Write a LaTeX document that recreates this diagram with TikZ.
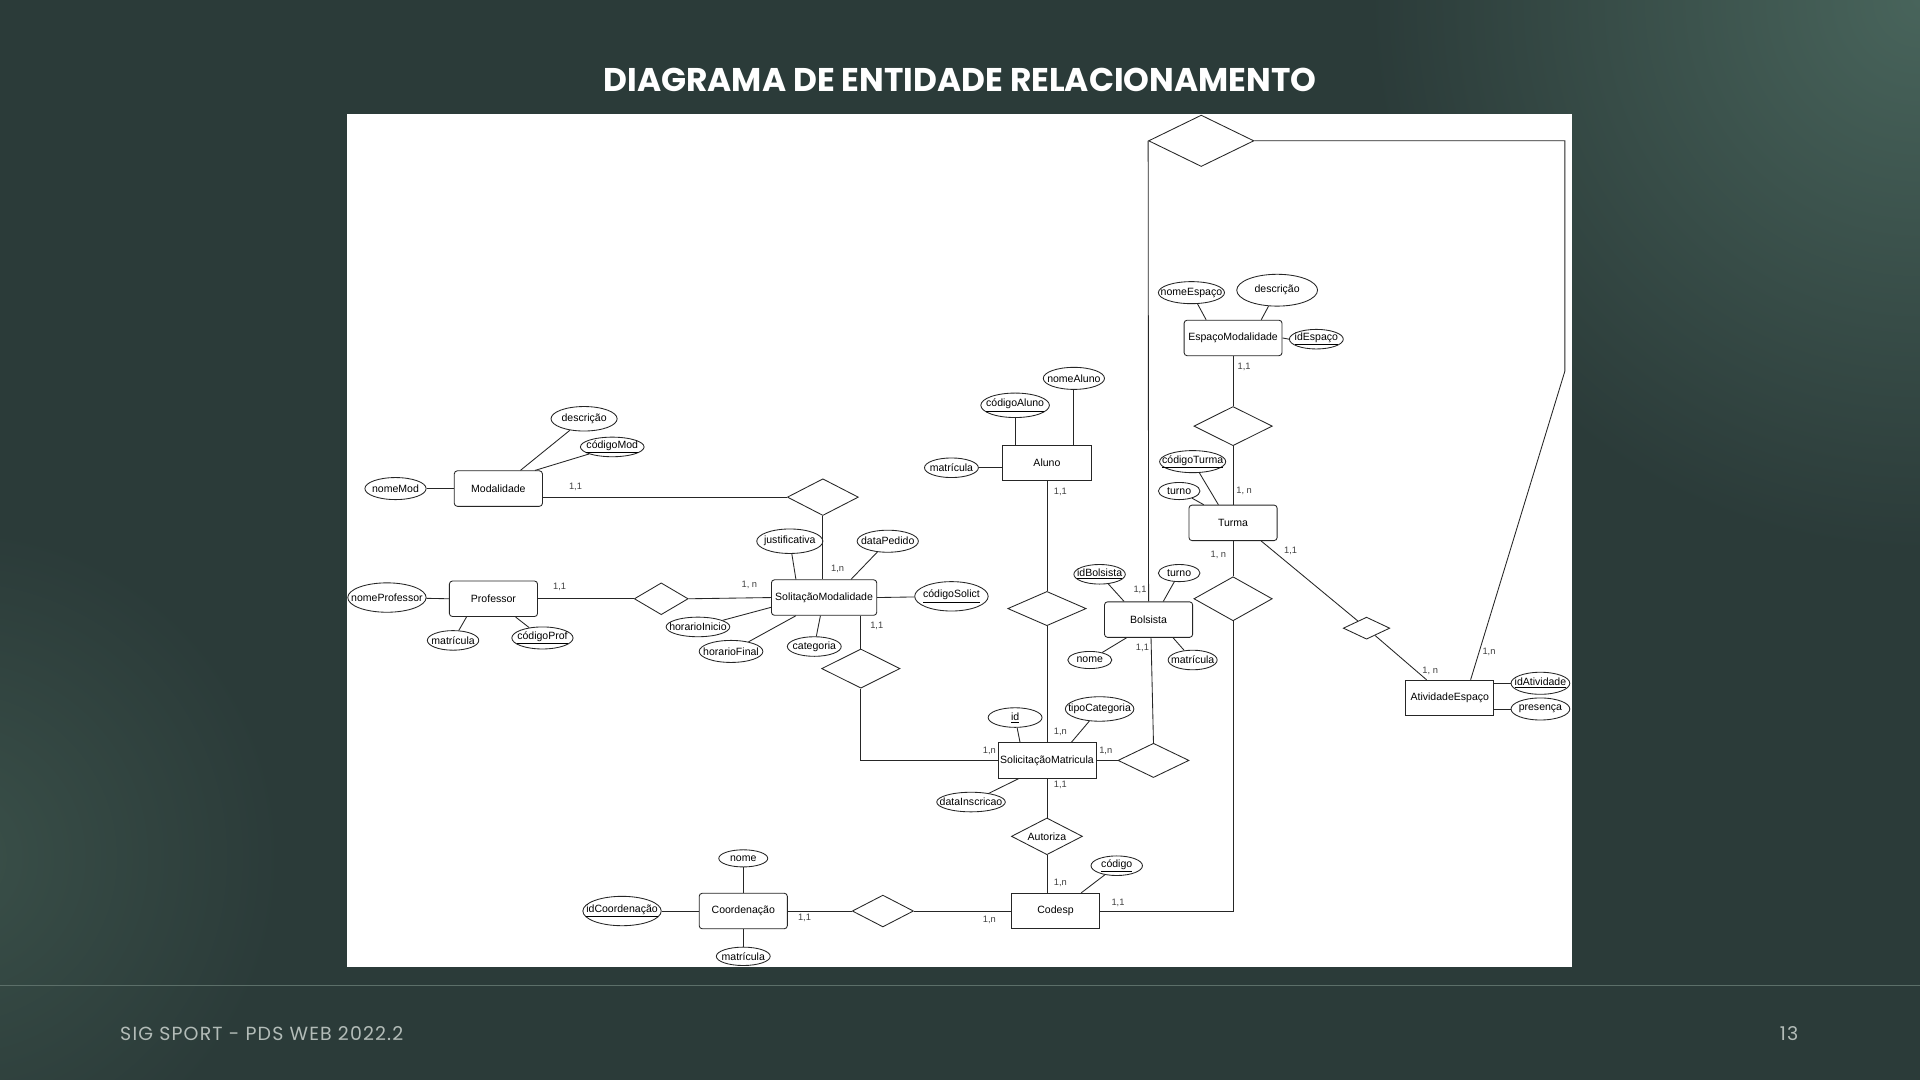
\documentclass[tikz,border=0pt]{standalone}
\usepackage{fontspec}
\usepackage{graphicx}
\setmainfont{Liberation Sans}
\newfontfamily\titlefont{Poppins}
\newfontfamily\footfont{Poppins}[LetterSpace=6]
\usetikzlibrary{shapes.geometric}
\definecolor{bgbase}{HTML}{2B3B39}
\definecolor{bglight}{HTML}{48645B}
\definecolor{bgleft}{HTML}{3A5049}
\definecolor{footgray}{HTML}{B3BCB8}
\definecolor{linegray}{HTML}{5C6F69}
\begin{document}
\begin{tikzpicture}[x=1pt,y=-1pt,
  every node/.style={font=\fontsize{8.6}{10}\selectfont},
  ent/.style={draw=black!85, line width=0.7pt, rounded corners=2.5pt, minimum width=72, minimum height=29, inner sep=1pt},
  sent/.style={draw=black!85, line width=0.7pt, minimum width=72, minimum height=29, inner sep=1pt},
  attr/.style={draw=black!85, line width=0.7pt, ellipse, inner sep=0pt, minimum height=16, label={[inner sep=0pt]center:#1}},
  rel/.style={draw=black!85, line width=0.7pt, diamond, inner sep=0pt, aspect=2},
  card/.style={font=\fontsize{7.6}{9}\selectfont, text=black!75, inner sep=0pt},
  conn/.style={draw=black!85, line width=0.7pt}
]
\useasboundingbox (0,0) rectangle (1568,882);
\clip (0,0) rectangle (1568,882);
% background
\fill[bgbase] (0,0) rectangle (1568,882);
\shade[inner color=bglight, outer color=bgbase] (1568,0) circle (450);
\shade[inner color=bgleft, outer color=bgbase] (-40,700) circle (270);
\draw[linegray, line width=1.2pt] (0,805) -- (1568,805);
\node[text=white, inner sep=0pt] (title) at (784,65) {\resizebox{582pt}{!}{\titlefont\bfseries DIAGRAMA DE ENTIDADE RELACIONAMENTO}};
\node[text=footgray, anchor=west, inner sep=0pt, font=\footfont\fontsize{15.5}{17}\selectfont] (footer) at (98,844) {SIG SPORT - PDS WEB 2022.2};
\node[text=footgray, inner sep=0pt, font=\footfont\fontsize{15.5}{17}\selectfont] (pagenum) at (1461,844) {13};
% panel
\fill[white] (283,93) rectangle (1284,790);

% ---------- Modalidade
\node[ent] (modalidade) at (407,399) {Modalidade};
\node[attr={nomeMod}, minimum width=50, minimum height=18] (nomeMod) at (323,399) {};
\node[attr={descrição}, minimum width=54, minimum height=20] (descMod) at (477,342) {};
\node[attr={\underline{códigoMod}}, minimum width=52] (codMod) at (500,365) {};
\draw[conn] (nomeMod) -- (modalidade.west);
\draw[conn] (descMod) -- ([xshift=18pt]modalidade.north);
\draw[conn] (codMod) -- ([xshift=30pt]modalidade.north);
\node[rel, minimum width=58, minimum height=30] (relMod) at (672,406) {};
\draw[conn] ([yshift=-7pt]modalidade.east) -- (relMod.west);
\node[card] (c1) at (470,398) {1,1};

% ---------- Professor
\node[ent] (professor) at (403,489) {Professor};
\node[attr={nomeProfessor}, minimum width=64, minimum height=24] (nomeProf) at (316,488) {};
\node[attr={matrícula}, minimum width=42] (matProf) at (370,523) {};
\node[attr={\underline{códigoProf}}, minimum width=50, minimum height=18] (codProf) at (443,521) {};
\draw[conn] (nomeProf) -- (professor.west);
\draw[conn] (matProf) -- ([xshift=-22pt]professor.south);
\draw[conn] (codProf) -- ([xshift=18pt]professor.south);
\node[rel, minimum width=44, minimum height=26] (relProf) at (540,489) {};
\node[card] (c2) at (457,479) {1,1};
\node[card] (c3) at (612,478) {1, n};

% ---------- SolitacaoModalidade
\node[ent, minimum width=86] (sm) at (673,488) {SolitaçãoModalidade};
\draw[conn] (professor.east) -- (relProf.west);
\draw[conn] (relProf.east) -- (sm.west);
\draw[conn] (relMod.south) -- (relMod.south |- sm.north);
\node[attr={justificativa}, minimum width=54, minimum height=20] (justif) at (645,442) {};
\node[attr={dataPedido}, minimum width=50, minimum height=18] (dataPed) at (725,442) {};
\node[attr={\underline{códigoSolict}}, minimum width=60, minimum height=24] (codSol) at (777,487) {};
\node[attr={horarioInicio}, minimum width=52] (horIni) at (570,512) {};
\node[attr={horarioFinal}, minimum width=52, minimum height=18] (horFim) at (597,532) {};
\node[attr={categoria}, minimum width=44] (categ) at (665,528) {};
\draw[conn] (justif) -- ([xshift=-23pt]sm.north);
\draw[conn] (dataPed) -- ([xshift=22pt]sm.north);
\draw[conn] (codSol) -- (sm.east);
\draw[conn] (horIni) -- ([yshift=-8pt]sm.west);
\draw[conn] (horFim) -- ([xshift=-23pt]sm.south);
\draw[conn] (categ) -- ([xshift=-3pt]sm.south);
\node[rel, minimum width=64, minimum height=32] (relSM) at (703,546) {};
\draw[conn] (relSM.north |- sm.south) -- (relSM.north);
\node[card] (c4) at (684,465) {1,n};
\node[card] (c5) at (716,511) {1,1};

% ---------- Aluno
\node[sent] (aluno) at (855,378) {Aluno};
\node[attr={\underline{códigoAluno}}, minimum width=56, minimum height=20] (codAluno) at (829,331) {};
\node[attr={nomeAluno}, minimum width=50, minimum height=18] (nomeAluno) at (877,309) {};
\node[attr={matrícula}, minimum width=44] (matAluno) at (777,382) {};
\draw[conn] (codAluno.south) -- (codAluno.south |- aluno.north);
\draw[conn] (nomeAluno.south) -- (nomeAluno.south |- aluno.north);
\draw[conn] (matAluno.east) -- (matAluno.east -| aluno.west);
\node[rel, minimum width=64, minimum height=28] (relAluno) at (855,497) {};
\draw[conn] (aluno.south) -- (relAluno.north);
\node[card] (c6) at (866,402) {1,1};

% ---------- SolicitacaoMatricula
\node[sent, minimum width=80] (smat) at (855,621) {SolicitaçãoMatricula};
\draw[conn] (relAluno.south) -- (smat.north);
\draw[conn] (relSM.south) -- (relSM.south |- smat.west) -- (smat.west);
\node[attr={\underline{id}}, minimum width=44] (idSM) at (829,586) {};
\node[attr={tipoCategoria}, minimum width=56, minimum height=20] (tipoCat) at (898,579) {};
\node[attr={dataInscricao}, minimum width=56] (dataInsc) at (793,655) {};
\draw[conn] (idSM) -- ([xshift=-22pt]smat.north);
\draw[conn] (tipoCat) -- ([xshift=20pt]smat.north);
\draw[conn] (dataInsc) -- ([xshift=-23pt]smat.south);
\node[rel, minimum width=58, minimum height=28] (relBol) at (942,621) {};
\draw[conn] (smat.east) -- (relBol.west);
\node[rel, minimum width=58, minimum height=30] (autoriza) at (855,683) {Autoriza};
\draw[conn] (smat.south) -- (autoriza.north);
\node[card] (c7) at (866,598) {1,n};
\node[card] (c8) at (808,613) {1,n};
\node[card] (c9) at (903,613) {1,n};
\node[card] (c10) at (866,641) {1,1};

% ---------- Codesp
\node[sent] (codesp) at (862,744) {Codesp};
\draw[conn] (autoriza.south) -- (autoriza.south |- codesp.north);
\node[attr={\underline{código}}, minimum width=42] (codCodesp) at (912,707) {};
\draw[conn] (codCodesp) -- ([xshift=21pt]codesp.north);
\node[rel, minimum width=64, minimum height=36] (relTurma) at (1007,489) {};
\draw[conn] (codesp.east) -| (relTurma.south);
\node[rel, minimum width=50, minimum height=26] (relCoord) at (721,744) {};
\draw[conn] (codesp.west) -- (relCoord.east);
\node[card] (c11) at (866,721) {1,n};
\node[card] (c12) at (913,737) {1,1};
\node[card] (c13) at (808,751) {1,n};

% ---------- Coordenacao
\node[ent] (coord) at (607,744) {Coordenação};
\draw[conn] (relCoord.west) -- (coord.east);
\node[attr={nome}, minimum width=40, minimum height=14] (nomeCoord) at (607,701) {};
\node[attr={matrícula}, minimum width=44, minimum height=15] (matCoord) at (607,781) {};
\node[attr={\underline{idCoordenação}}, minimum width=64, minimum height=24] (idCoord) at (508,744) {};
\draw[conn] (nomeCoord.south) -- (coord.north);
\draw[conn] (coord.south) -- (matCoord.north);
\draw[conn] (idCoord.east) -- (coord.west);
\node[card] (c14) at (657,750) {1,1};

% ---------- Bolsista
\node[ent] (bolsista) at (938,506) {Bolsista};
\node[attr={\underline{idBolsista}}, minimum width=42] (idBol) at (898,469) {};
\node[attr={turno}, minimum width=34, minimum height=14] (turnoBol) at (963,468) {};
\node[attr={nome}, minimum width=36, minimum height=14] (nomeBol) at (890,539) {};
\node[attr={matrícula}, minimum width=40] (matBol) at (974,539) {};
\draw[conn] (idBol) -- ([xshift=-20pt]bolsista.north);
\draw[conn] (turnoBol) -- ([xshift=12pt]bolsista.north);
\draw[conn] (nomeBol) -- ([xshift=-18pt]bolsista.south);
\draw[conn] (matBol) -- ([xshift=20pt]bolsista.south);
\draw[conn] (relBol.north) -- ([xshift=2pt]bolsista.south);
\node[card] (c15) at (931,482) {1,1};
\node[card] (c16) at (933,529) {1,1};

% ---------- big relation (Bolsista - AtividadeEspaco)
\node[rel, minimum width=86, minimum height=42] (bigRel) at (981,115) {};
\draw[conn] (bolsista.north) -- (bigRel.west);
\coordinate (bend1) at (1278,115);
\coordinate (bend2) at (1278,303);

% ---------- EspacoModalidade
\node[ent, minimum width=80] (espmod) at (1007,276) {EspaçoModalidade};
\node[attr={nomeEspaço}, minimum width=54, minimum height=18] (nomeEsp) at (973,239) {};
\node[attr={descrição}, minimum width=66, minimum height=26] (descEsp) at (1043,237) {};
\node[attr={\underline{idEspaço}}, minimum width=44] (idEsp) at (1075,277) {};
\draw[conn] (nomeEsp) -- ([xshift=-22pt]espmod.north);
\draw[conn] (descEsp) -- ([xshift=23pt]espmod.north);
\draw[conn] (espmod.east) -- (idEsp.west);
\node[rel, minimum width=64, minimum height=32] (relEsp) at (1007,348) {};
\draw[conn] (espmod.south) -- (relEsp.north);
\node[card] (c17) at (1016,300) {1,1};

% ---------- Turma
\node[ent] (turma) at (1007,427) {Turma};
\node[attr={\underline{códigoTurma}}, minimum width=54, minimum height=18] (codTurma) at (974,377) {};
\node[attr={turno}, minimum width=34, minimum height=14] (turnoTurma) at (963,401) {};
\draw[conn] (codTurma) -- ([xshift=-12pt]turma.north);
\draw[conn] (turnoTurma) -- ([xshift=-24pt]turma.north);
\draw[conn] (relEsp.south) -- (turma.north);
\draw[conn] (relTurma.north) -- (turma.south);
\node[rel, minimum width=38, minimum height=18] (smallRel) at (1116,513) {};
\draw[conn] ([xshift=23pt]turma.south) -- (smallRel);
\node[card] (c18) at (1016,401) {1, n};
\node[card] (c19) at (995,453) {1, n};
\node[card] (c20) at (1054,450) {1,1};

% ---------- AtividadeEspaco
\node[sent] (ativ) at (1184,570) {AtividadeEspaço};
\node[attr={\underline{idAtividade}}, minimum width=48, minimum height=18] (idAtiv) at (1258,558) {};
\node[attr={presença}, minimum width=48, minimum height=18] (presenca) at (1258,579) {};
\draw[conn] (idAtiv.west -| ativ.east) -- (idAtiv.west);
\draw[conn] (presenca.west -| ativ.east) -- (presenca.west);
\draw[conn] (smallRel) -- ([xshift=-19pt]ativ.north);
\draw[conn] (bigRel.east) -- (bend1) -- (bend2) -- ([xshift=17pt]ativ.north);
\node[card] (c21) at (1168,548) {1, n};
\node[card] (c22) at (1216,532) {1,n};
\end{tikzpicture}
\end{document}
